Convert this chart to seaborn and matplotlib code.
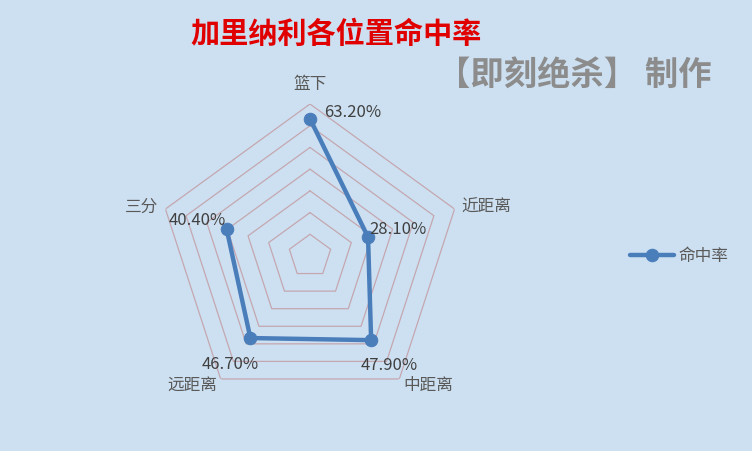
import numpy as np
import pandas as pd
import matplotlib
matplotlib.use("Agg")
import matplotlib.pyplot as plt
import seaborn as sns

# ---- data ----
categories = ["篮下", "近距离", "中距离", "远距离", "三分"]
values = [63.2, 28.1, 47.9, 46.7, 40.4]
value_labels = ["63.20%", "28.10%", "47.90%", "46.70%", "40.40%"]
grid_levels = [10, 20, 30, 40, 50, 60, 70]
series_name = "命中率"
title = "加里纳利各位置命中率"
watermark = "【即刻绝杀】 制作"

sns.set_style("white")
plt.rcParams['font.family'] = ['Noto Sans CJK SC', 'DejaVu Sans']

BG = "#CDE0F1"
LINE = "#4A7EBB"
GRID = "#C4A7B0"

fig = plt.figure(figsize=(7.52, 4.52), dpi=100, facecolor=BG)
W, H = 752, 452
cx, cy, R = 310, 257, 152
ax = fig.add_axes([(cx - R) / W, (H - cy - R) / H, 2 * R / W, 2 * R / H],
                  projection="polar")
ax.set_theta_zero_location("N")
ax.set_theta_direction(-1)
ax.set_ylim(0, 70)
ax.grid(False)
ax.set_xticks([])
ax.set_yticks([])
ax.spines["polar"].set_visible(False)
ax.patch.set_alpha(0)

n = len(categories)
theta = np.arange(n) * 2 * np.pi / n
theta_c = np.append(theta, theta[0])

for lv in grid_levels:
    ax.plot(theta_c, [lv] * (n + 1), color=GRID, lw=0.9, zorder=1)

df = pd.DataFrame({"theta": theta_c, "value": values + values[:1],
                   "series": series_name})
sns.lineplot(data=df, x="theta", y="value", sort=False, ax=ax,
             color=LINE, lw=3.2, marker="o", markersize=9,
             markeredgecolor=LINE, label=series_name, zorder=3, legend=False)

# category labels
cat_pos = [(0, 75.5, "center", "bottom"), (1, 73.5, "left", "center"),
           (2, 73, "left", "center"), (3, 73, "right", "center"),
           (4, 73.5, "right", "center")]
for i, r, ha, va in cat_pos:
    ax.text(theta[i], r, categories[i], ha=ha, va=va, fontsize=12,
            color="#595959", clip_on=False)

# data labels (offsets in pixels)
offs = [(14, 7, "left"), (1, 9, "left"), (18, -24, "center"),
        (-20, -25, "center"), (-1, 9, "right")]
for i, (dx, dy, ha) in enumerate(offs):
    ax.annotate(value_labels[i], xy=(theta[i], values[i]),
                xytext=(dx * 0.72, dy * 0.72), textcoords="offset points",
                ha=ha, va="center", fontsize=12, color="#404040")

fig.text(336 / W, 1 - 34 / H, title, ha="center", va="center",
         fontsize=21, color="#E00000", fontweight="bold")
fig.text(574 / W, 1 - 75 / H, watermark, ha="center", va="center",
         fontsize=24, color="#8C8C8C", fontweight="bold")

handles, labels = ax.get_legend_handles_labels()
fig.legend(handles, labels, loc="center left",
           bbox_to_anchor=(622 / W, 1 - 257 / H), frameon=False,
           fontsize=12, handlelength=2.6, handletextpad=0.3, borderpad=0,
           labelcolor="#595959")

fig.savefig("out.png", dpi=100, facecolor=BG)
